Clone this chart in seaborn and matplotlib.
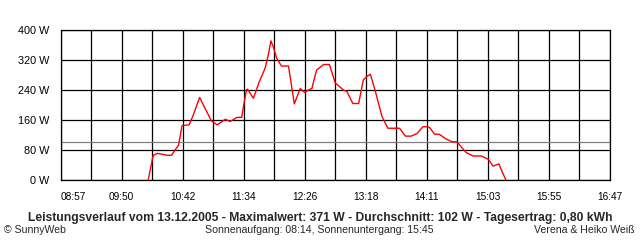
import matplotlib
matplotlib.use("Agg")
import matplotlib.pyplot as plt
import seaborn as sns
import numpy as np
import pandas as pd

# ---- data ----
times = ["10:12", "10:16", "10:17", "10:20", "10:25", "10:28", "10:32", "10:35", "10:38", "10:39",
         "10:41", "10:47", "10:50", "10:56", "11:06", "11:11", "11:18", "11:22", "11:28", "11:32",
         "11:33", "11:36", "11:37", "11:42", "11:47", "11:52", "11:55", "11:57", "11:59", "12:02",
         "12:06", "12:12", "12:17", "12:22", "12:26", "12:29", "12:32", "12:36", "12:42", "12:47",
         "12:52", "12:59", "13:02", "13:07", "13:12", "13:16", "13:19", "13:22", "13:26", "13:32",
         "13:37", "13:47", "13:52", "13:57", "14:02", "14:07", "14:11", "14:13", "14:17", "14:21",
         "14:27", "14:32", "14:36", "14:39", "14:44", "14:50", "14:57", "15:03", "15:07", "15:12",
         "15:14", "15:18"]
watts = [0, 62, 67, 71, 68, 66, 66, 80, 93, 111,
         145, 147, 169, 220, 158, 147, 162, 156, 167, 167,
         187, 240, 242, 218, 262, 298, 338, 371, 355, 324,
         304, 304, 203, 244, 233, 240, 244, 293, 308, 308,
         259, 240, 236, 204, 204, 267, 276, 282, 240, 169,
         138, 138, 117, 117, 124, 142, 142, 139, 122, 122,
         109, 102, 102, 91, 73, 64, 64, 55, 37, 43,
         27, 0]
avg_w = 102
x_labels = ["08:57", "09:50", "10:42", "11:34", "12:26", "13:18", "14:11", "15:03", "15:55", "16:47"]
y_values = [0, 80, 160, 240, 320, 400]
title = "Leistungsverlauf vom 13.12.2005 - Maximalwert: 371 W - Durchschnitt: 102 W - Tagesertrag: 0,80 kWh"
left_note = "\u00a9 SunnyWeb"
mid_note = "Sonnenaufgang: 08:14, Sonnenuntergang: 15:45"
right_note = "Verena & Heiko Wei\u00df"


def to_min(s):
    h, m = s.split(":")
    return int(h) * 60 + int(m)


df = pd.DataFrame({"t": [to_min(t) for t in times], "w": watts})

sns.set_style("white")
plt.rcParams["font.family"] = ["Liberation Sans", "DejaVu Sans"]

fig = plt.figure(figsize=(6.4, 2.4), dpi=100)
ax = fig.add_axes([60.5 / 640, 60 / 240, 549.5 / 640, 150 / 240])

t0, t1 = to_min(x_labels[0]), to_min(x_labels[-1])
major = np.linspace(t0, t1, len(x_labels))
minor = np.linspace(t0, t1, 2 * (len(x_labels) - 1) + 1)

lw = 0.9
for v in minor:
    ax.axvline(v, color="black", lw=lw, zorder=1)
for v in y_values:
    ax.axhline(v, color="black", lw=lw, zorder=1)
ax.axhline(avg_w, color="#808080", lw=lw, zorder=2)

sns.lineplot(data=df, x="t", y="w", color="#ff0000", lw=1.0, ax=ax, zorder=3)

ax.set_xlim(t0, t1)
ax.set_ylim(y_values[0], y_values[-1])
ax.set_xticks(minor, minor=False)
ax.set_xticklabels([x_labels[i // 2] if i % 2 == 0 else "" for i in range(len(minor))])
ax.set_yticks(y_values)
ax.set_yticklabels([f"{v} W" for v in y_values])
ax.set_xlabel("")
ax.set_ylabel("")
ax.tick_params(axis="both", which="both", direction="out", length=4, width=lw,
               color="black", labelcolor="black")
ax.tick_params(axis="x", pad=5, labelsize=7.3)
ax.tick_params(axis="y", pad=4, labelsize=7.8)
ax.xaxis.get_ticklabels()[0].set_horizontalalignment("left")
for s in ax.spines.values():
    s.set_color("black")
    s.set_linewidth(lw)
    s.set_visible(True)

fig.text(0.5, 1 - 217.5 / 240, title, ha="center", va="center", fontsize=8.7, fontweight="bold")
fig.text(4 / 640, 1 - 230 / 240, left_note, ha="left", va="center", fontsize=7.6)
fig.text(319 / 640, 1 - 230 / 240, mid_note, ha="center", va="center", fontsize=7.6)
fig.text(635 / 640, 1 - 230 / 240, right_note, ha="right", va="center", fontsize=7.6)

fig.savefig("out.png", dpi=100)
